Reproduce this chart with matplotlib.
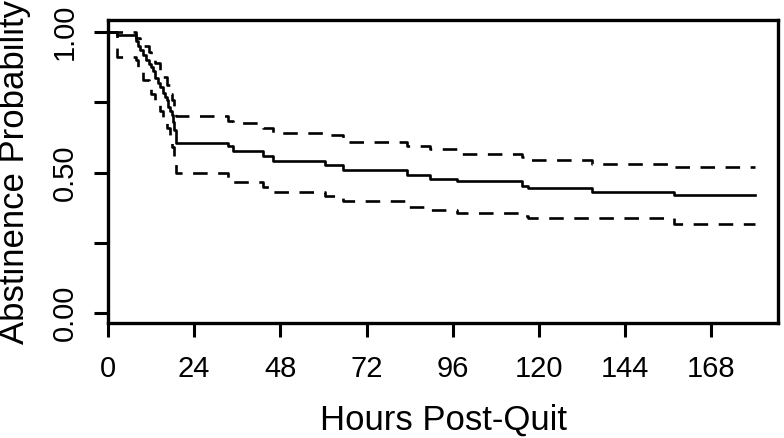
import matplotlib
matplotlib.use('Agg')
import matplotlib.pyplot as plt

plt.rcParams['font.family'] = ['Liberation Sans', 'DejaVu Sans']

# Kaplan-Meier estimate (hours, survival), step "post"
km_t = [0, 2.4, 7.7, 8.3, 8.9, 9.8, 10.5, 11.3, 12.1, 12.6, 13.1, 13.8, 14.5,
        15.2, 15.8, 16.3, 16.8, 17.2, 17.7, 18.1, 18.5, 18.9, 33.5, 34.8, 43.3,
        46.0, 60.4, 65.5, 83.2, 89.7, 97.1, 115.2, 117.0, 134.7, 157.5, 180.2]
km_s = [1.0, 0.991, 0.97, 0.95, 0.936, 0.918, 0.90, 0.885, 0.877, 0.86, 0.836,
        0.82, 0.806, 0.785, 0.77, 0.759, 0.735, 0.72, 0.706, 0.68, 0.652, 0.607,
        0.594, 0.576, 0.559, 0.541, 0.528, 0.511, 0.493, 0.479, 0.470, 0.452,
        0.446, 0.431, 0.420, 0.420]

up_t = [0, 7.7, 8.9, 9.8, 11.3, 12.1, 13.1, 14.5, 15.2, 16.3, 17.2, 17.7, 18.5,
        18.9, 33.5, 34.8, 43.3, 46.0, 60.4, 65.5, 83.2, 89.7, 97.1, 115.2, 117.0,
        134.7, 157.5, 180.2]
up_s = [1.0, 0.98, 0.96, 0.95, 0.93, 0.91, 0.89, 0.86, 0.84, 0.81, 0.78, 0.76,
        0.73, 0.70, 0.685, 0.676, 0.66, 0.641, 0.635, 0.608, 0.595, 0.585, 0.567,
        0.555, 0.546, 0.531, 0.520, 0.520]

lo_t = [0, 2.4, 7.7, 8.3, 8.9, 9.8, 11.3, 12.1, 13.1, 14.5, 15.2, 16.3, 17.2,
        17.7, 18.5, 18.9, 33.5, 34.8, 43.3, 46.0, 60.4, 65.5, 83.2, 89.7, 97.1,
        115.2, 117.0, 134.7, 157.5, 180.2]
lo_s = [1.0, 0.91, 0.90, 0.87, 0.86, 0.83, 0.80, 0.78, 0.75, 0.72, 0.69, 0.66,
        0.62, 0.59, 0.55, 0.499, 0.48, 0.467, 0.45, 0.431, 0.418, 0.398, 0.378,
        0.367, 0.357, 0.345, 0.339, 0.337, 0.316, 0.316]

x_ticks = [0, 24, 48, 72, 96, 120, 144, 168]
y_ticks = [0, 0.25, 0.5, 0.75, 1.0]
y_labels = ['0.00', '', '0.50', '', '1.00']

fig = plt.figure(figsize=(7.84, 4.38), dpi=100)
ax = fig.add_axes([108/784, 1-323/438, 670/784, 303/438])

ax.step(km_t, km_s, where='post', color='black', lw=1.9)
ax.step(up_t, up_s, where='post', color='black', lw=1.9, dashes=(5.5, 4))
ax.step(lo_t, lo_s, where='post', color='black', lw=1.9, dashes=(5.5, 4))

ax.set_xlim(0, 186.6)
ax.set_ylim(-0.035, 1.043)
ax.set_xticks(x_ticks)
ax.set_yticks(y_ticks)
ax.set_yticklabels(y_labels, rotation=90, va='center')
for s in ax.spines.values():
    s.set_linewidth(2.4)
ax.tick_params(length=10, width=2.2, labelsize=21, pad=13)
ax.tick_params(axis='y', pad=11)

fig.text(15/784, 1-172/438, 'Abstinence Probability', rotation=90,
         ha='center', va='center', fontsize=25)
fig.text(444/784, 1-430/438, 'Hours Post-Quit', ha='center', va='baseline',
         fontsize=25)

fig.savefig('out.png', dpi=100)
